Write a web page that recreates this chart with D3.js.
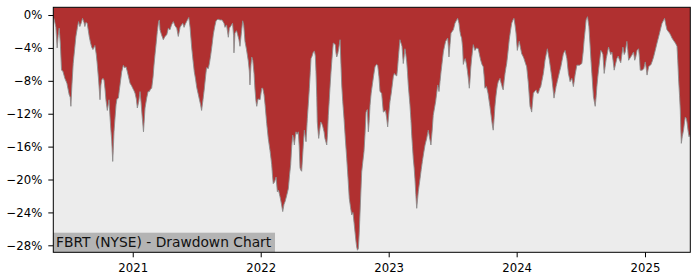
<!DOCTYPE html>
<html>
<head>
<meta charset="utf-8">
<script src="https://cdn.jsdelivr.net/npm/d3@7"></script>
<style>
  body { margin: 0; background: #fff; }
  svg { display: block; font-family: "DejaVu Sans", sans-serif; }
</style>
</head>
<body>
<svg id="chart"></svg>
<script>
// drawdown readings, time as decimal years, value in percent
const dates = [
  2020.381, 2020.389, 2020.401, 2020.411, 2020.419, 2020.427, 2020.436, 2020.445, 2020.455, 2020.471,
  2020.487, 2020.505, 2020.513, 2020.518, 2020.526, 2020.536, 2020.545, 2020.557, 2020.569, 2020.578,
  2020.588, 2020.600, 2020.609, 2020.620, 2020.627, 2020.635, 2020.645, 2020.653, 2020.661, 2020.670,
  2020.680, 2020.690, 2020.705, 2020.716, 2020.723, 2020.734, 2020.745, 2020.752, 2020.758, 2020.768,
  2020.776, 2020.784, 2020.791, 2020.802, 2020.815, 2020.823, 2020.830, 2020.836, 2020.844, 2020.848,
  2020.854, 2020.862, 2020.870, 2020.877, 2020.888, 2020.895, 2020.901, 2020.914, 2020.927, 2020.936,
  2020.948, 2020.958, 2020.967, 2020.979, 2020.991, 2021.000, 2021.010, 2021.018, 2021.028, 2021.036,
  2021.047, 2021.057, 2021.065, 2021.073, 2021.084, 2021.096, 2021.109, 2021.120, 2021.130, 2021.139,
  2021.148, 2021.159, 2021.166, 2021.174, 2021.182, 2021.192, 2021.202, 2021.208, 2021.213, 2021.225,
  2021.239, 2021.252, 2021.266, 2021.278, 2021.291, 2021.303, 2021.317, 2021.330, 2021.344, 2021.356,
  2021.370, 2021.381, 2021.391, 2021.401, 2021.411, 2021.424, 2021.438, 2021.448, 2021.461, 2021.471,
  2021.481, 2021.491, 2021.500, 2021.510, 2021.520, 2021.530, 2021.538, 2021.549, 2021.559, 2021.569,
  2021.577, 2021.591, 2021.600, 2021.609, 2021.620, 2021.630, 2021.641, 2021.651, 2021.666, 2021.682,
  2021.698, 2021.713, 2021.721, 2021.733, 2021.747, 2021.755, 2021.768, 2021.780, 2021.788, 2021.791,
  2021.799, 2021.811, 2021.820, 2021.830, 2021.838, 2021.850, 2021.859, 2021.867, 2021.877, 2021.889,
  2021.903, 2021.911, 2021.916, 2021.924, 2021.930, 2021.938, 2021.948, 2021.955, 2021.963, 2021.969,
  2021.979, 2021.995, 2022.008, 2022.016, 2022.026, 2022.034, 2022.047, 2022.059, 2022.073, 2022.086,
  2022.092, 2022.098, 2022.108, 2022.120, 2022.130, 2022.139, 2022.151, 2022.161, 2022.172, 2022.182,
  2022.190, 2022.202, 2022.216, 2022.225, 2022.234, 2022.242, 2022.250, 2022.256, 2022.263, 2022.270,
  2022.276, 2022.284, 2022.294, 2022.301, 2022.307, 2022.315, 2022.320, 2022.328, 2022.334, 2022.341,
  2022.348, 2022.354, 2022.364, 2022.372, 2022.380, 2022.387, 2022.393, 2022.401, 2022.411, 2022.420,
  2022.427, 2022.432, 2022.438, 2022.442, 2022.453, 2022.461, 2022.469, 2022.477, 2022.484, 2022.495,
  2022.502, 2022.516, 2022.522, 2022.528, 2022.535, 2022.541, 2022.549, 2022.555, 2022.561, 2022.567,
  2022.575, 2022.583, 2022.588, 2022.594, 2022.602, 2022.609, 2022.620, 2022.627, 2022.633, 2022.641,
  2022.651, 2022.661, 2022.672, 2022.682, 2022.692, 2022.702, 2022.711, 2022.721, 2022.729, 2022.737,
  2022.745, 2022.750, 2022.756, 2022.763, 2022.770, 2022.780, 2022.789, 2022.798, 2022.807, 2022.815,
  2022.823, 2022.833, 2022.841, 2022.848, 2022.854, 2022.863, 2022.872, 2022.883, 2022.893, 2022.905,
  2022.914, 2022.924, 2022.932, 2022.945, 2022.958, 2022.975, 2022.984, 2022.992, 2023.002, 2023.010,
  2023.020, 2023.028, 2023.036, 2023.044, 2023.053, 2023.063, 2023.069, 2023.075, 2023.082, 2023.088,
  2023.096, 2023.104, 2023.114, 2023.121, 2023.127, 2023.134, 2023.141, 2023.147, 2023.153, 2023.160,
  2023.166, 2023.174, 2023.180, 2023.186, 2023.192, 2023.199, 2023.205, 2023.212, 2023.219, 2023.225,
  2023.231, 2023.238, 2023.245, 2023.254, 2023.263, 2023.273, 2023.284, 2023.297, 2023.309, 2023.316,
  2023.323, 2023.330, 2023.340, 2023.348, 2023.358, 2023.367, 2023.375, 2023.383, 2023.393, 2023.401,
  2023.409, 2023.418, 2023.427, 2023.436, 2023.445, 2023.453, 2023.461, 2023.466, 2023.471, 2023.479,
  2023.487, 2023.496, 2023.505, 2023.512, 2023.518, 2023.528, 2023.539, 2023.549, 2023.557, 2023.563,
  2023.570, 2023.578, 2023.583, 2023.590, 2023.598, 2023.608, 2023.616, 2023.623, 2023.630, 2023.635,
  2023.641, 2023.648, 2023.661, 2023.674, 2023.686, 2023.700, 2023.709, 2023.719, 2023.729, 2023.739,
  2023.746, 2023.752, 2023.764, 2023.776, 2023.791, 2023.805, 2023.811, 2023.817, 2023.824, 2023.830,
  2023.837, 2023.844, 2023.850, 2023.856, 2023.863, 2023.870, 2023.877, 2023.883, 2023.889, 2023.895,
  2023.902, 2023.909, 2023.916, 2023.922, 2023.932, 2023.942, 2023.952, 2023.961, 2023.971, 2023.979,
  2023.987, 2023.995, 2024.005, 2024.013, 2024.020, 2024.030, 2024.039, 2024.049, 2024.057, 2024.067,
  2024.078, 2024.084, 2024.091, 2024.098, 2024.104, 2024.112, 2024.117, 2024.123, 2024.130, 2024.140,
  2024.151, 2024.160, 2024.169, 2024.178, 2024.188, 2024.198, 2024.208, 2024.215, 2024.221, 2024.230,
  2024.239, 2024.247, 2024.255, 2024.264, 2024.273, 2024.282, 2024.291, 2024.299, 2024.307, 2024.316,
  2024.325, 2024.334, 2024.344, 2024.354, 2024.364, 2024.377, 2024.391, 2024.397, 2024.403, 2024.410,
  2024.416, 2024.430, 2024.442, 2024.449, 2024.455, 2024.469, 2024.479, 2024.489, 2024.498, 2024.508,
  2024.518, 2024.526, 2024.534, 2024.541, 2024.552, 2024.563, 2024.573, 2024.579, 2024.586, 2024.592,
  2024.598, 2024.605, 2024.612, 2024.620, 2024.625, 2024.631, 2024.638, 2024.647, 2024.656, 2024.664,
  2024.672, 2024.682, 2024.690, 2024.698, 2024.707, 2024.716, 2024.725, 2024.733, 2024.742, 2024.751,
  2024.760, 2024.770, 2024.781, 2024.791, 2024.802, 2024.811, 2024.819, 2024.828, 2024.838, 2024.846,
  2024.859, 2024.866, 2024.872, 2024.885, 2024.897, 2024.911, 2024.920, 2024.928, 2024.938, 2024.950,
  2024.957, 2024.963, 2024.979, 2024.991, 2025.002, 2025.010, 2025.016, 2025.028, 2025.047, 2025.057,
  2025.067, 2025.080, 2025.094, 2025.104, 2025.114, 2025.123, 2025.133, 2025.143, 2025.153, 2025.163,
  2025.172, 2025.182, 2025.192, 2025.202, 2025.211, 2025.223, 2025.237, 2025.250, 2025.256, 2025.263,
  2025.270, 2025.276, 2025.280, 2025.284, 2025.291, 2025.301, 2025.309, 2025.315, 2025.323, 2025.328,
  2025.336, 2025.344, 2025.354
];

const drawdown = [
  -0.2, -0.6, -1.5, -4.0, -2.5, -1.6, -3.5, -6.7, -6.8, -7.7,
  -8.3, -9.7, -10.0, -11.1, -8.5, -5.9, -4.5, -2.6, -1.5, -0.8,
  -1.4, -0.9, -0.4, -0.9, -1.4, -0.9, -1.0, -1.8, -2.6, -3.3,
  -3.9, -4.2, -3.7, -4.8, -5.9, -7.9, -10.3, -8.5, -7.9, -7.7,
  -7.9, -9.0, -10.3, -11.6, -10.3, -12.4, -14.0, -15.2, -17.8, -16.5,
  -14.2, -12.5, -10.9, -10.2, -10.1, -9.2, -8.5, -6.9, -6.1, -6.4,
  -6.3, -6.9, -7.5, -8.3, -8.6, -8.9, -9.2, -9.5, -10.2, -11.3,
  -10.5, -9.3, -10.6, -12.2, -14.2, -11.3, -10.1, -9.3, -9.3, -9.0,
  -8.9, -7.5, -6.1, -4.8, -3.6, -2.0, -0.8, -0.6, -1.8, -2.4,
  -3.0, -2.6, -2.4, -1.6, -1.8, -1.2, -0.8, -1.3, -1.6, -2.6,
  -1.5, -1.2, -1.0, -1.5, -1.1, -0.7, -0.3, -1.5, -4.0, -5.5,
  -6.9, -7.8, -8.8, -9.5, -10.2, -10.9, -11.6, -10.3, -9.0, -7.5,
  -6.4, -6.5, -5.8, -4.9, -3.6, -2.3, -1.4, -0.7, -0.5, -0.6,
  -0.6, -1.0, -1.5, -1.2, -2.7, -1.6, -1.3, -1.0, -2.5, -4.6,
  -2.2, -1.9, -2.4, -3.0, -3.8, -2.0, -0.7, -1.2, -3.2, -4.2,
  -5.6, -6.8, -8.5, -6.0, -5.1, -5.5, -7.1, -9.0, -10.5, -11.1,
  -10.2, -10.3, -8.9, -8.9, -9.7, -10.9, -13.2, -15.0, -16.5, -18.2,
  -19.5, -20.5, -20.3, -19.7, -21.5, -21.3, -22.1, -22.9, -23.9, -23.0,
  -22.7, -22.0, -21.1, -19.5, -18.2, -16.0, -14.6, -15.0, -15.8, -14.8,
  -14.2, -14.5, -14.2, -16.0, -18.6, -18.9, -19.0, -17.0, -15.5, -14.0,
  -14.8, -15.4, -12.6, -10.8, -8.9, -7.0, -5.3, -5.0, -4.5, -4.4,
  -5.0, -6.9, -10.0, -13.0, -15.0, -14.0, -13.0, -13.2, -13.5, -14.2,
  -15.0, -15.8, -14.5, -12.2, -10.5, -8.9, -7.0, -5.7, -4.5, -3.4,
  -3.5, -3.6, -4.6, -5.1, -4.7, -4.1, -3.0, -6.0, -8.5, -10.5,
  -12.6, -15.0, -17.4, -19.8, -22.3, -23.4, -24.3, -24.0, -25.2, -26.4,
  -27.6, -28.2, -28.6, -28.4, -26.4, -22.5, -19.1, -17.8, -16.6, -14.5,
  -11.8, -11.5, -14.2, -12.8, -11.0, -9.5, -8.5, -7.3, -6.3, -6.0,
  -6.1, -7.5, -9.3, -9.5, -11.8, -11.6, -12.5, -13.6, -11.8, -10.5,
  -9.5, -8.5, -7.5, -7.1, -7.3, -7.4, -6.5, -5.3, -4.0, -3.0,
  -3.4, -3.8, -5.9, -5.0, -4.1, -4.8, -5.7, -7.0, -8.5, -9.8,
  -10.9, -12.8, -14.6, -16.0, -17.4, -18.6, -19.9, -21.8, -23.5, -22.5,
  -21.5, -20.7, -19.9, -18.8, -17.8, -16.8, -15.8, -15.0, -14.0, -14.6,
  -15.2, -15.8, -14.0, -12.2, -11.3, -10.5, -9.5, -8.5, -9.3, -8.1,
  -6.9, -5.7, -4.5, -3.8, -3.2, -3.0, -2.8, -3.8, -5.1, -3.6,
  -2.2, -2.0, -1.8, -1.4, -1.0, -0.7, -0.4, -1.0, -2.0, -2.5,
  -2.8, -4.0, -6.0, -5.6, -5.3, -6.0, -6.9, -7.8, -8.9, -8.0,
  -6.5, -5.3, -3.6, -4.3, -4.0, -4.1, -4.8, -5.5, -6.0, -6.3,
  -7.5, -8.9, -8.7, -9.5, -11.1, -12.8, -13.5, -14.0, -12.5, -11.1,
  -10.0, -9.1, -8.5, -8.1, -7.9, -7.7, -8.2, -8.5, -8.9, -9.1,
  -8.0, -7.1, -6.4, -5.9, -4.5, -3.0, -1.9, -1.0, -0.6, -0.4,
  -1.2, -2.2, -4.3, -3.7, -3.2, -4.0, -4.7, -5.0, -5.3, -5.8,
  -6.3, -7.2, -8.3, -9.8, -11.1, -11.5, -11.8, -10.7, -9.5, -9.3,
  -9.1, -9.5, -9.5, -9.0, -8.7, -7.9, -7.1, -6.3, -5.5, -4.8,
  -4.1, -4.8, -5.5, -6.5, -7.5, -8.8, -10.1, -9.4, -8.7, -8.1,
  -7.5, -6.9, -6.3, -5.5, -4.7, -4.3, -5.3, -6.2, -7.1, -7.6,
  -8.1, -7.7, -8.7, -8.0, -7.3, -6.1, -6.1, -6.1, -6.0, -5.9,
  -4.5, -3.0, -1.8, -0.6, -0.2, -1.4, -3.9, -5.5, -7.1, -8.5,
  -9.9, -10.5, -11.1, -9.8, -8.7, -7.7, -6.7, -5.5, -4.3, -4.5,
  -4.8, -7.1, -6.2, -5.3, -4.6, -3.9, -4.4, -4.8, -4.5, -5.5,
  -6.7, -6.0, -5.3, -5.0, -5.5, -5.8, -4.9, -3.9, -4.8, -4.5,
  -3.2, -4.3, -5.5, -5.2, -4.9, -4.5, -5.5, -5.1, -4.3, -4.1,
  -5.2, -6.7, -6.7, -6.5, -5.7, -6.5, -7.3, -6.3, -6.0, -5.6,
  -5.1, -4.3, -3.4, -2.8, -2.2, -1.6, -1.0, -0.7, -0.4, -1.2,
  -1.8, -2.0, -2.2, -2.5, -2.8, -3.1, -3.4, -3.8, -5.5, -7.9,
  -9.8, -11.6, -14.0, -15.6, -14.8, -14.0, -13.0, -12.4, -12.6, -13.0,
  -14.0, -14.8, -14.5
];

const yTicks = [0, -4, -8, -12, -16, -20, -24, -28];
const xTicks = [2021, 2022, 2023, 2024, 2025];
const yLimits = [-28.85, 0.94];
const chartLabel = "FBRT (NYSE) - Drawdown Chart";

// decimal year -> UTC date
function yearToDate(t) {
    const y = Math.floor(t);
    const start = Date.UTC(y, 0, 1);
    const end = Date.UTC(y + 1, 0, 1);
    return new Date(start + (t - y) * (end - start));
}

class DrawdownChart {
    constructor(_config) {
        this.config = {
            parentElement: _config.parentElement,
            containerWidth: _config.containerWidth || 700,
            containerHeight: _config.containerHeight || 280,
            margin: _config.margin || { top: 7.3, right: 9.7, bottom: 27.7, left: 53.3 },
        };
        this.data = dates.map((d, i) => ({ date: yearToDate(d), value: drawdown[i] }));
        this.initVis();
    }

    initVis() {
        let vis = this;

        vis.width = vis.config.containerWidth - vis.config.margin.left - vis.config.margin.right;
        vis.height = vis.config.containerHeight - vis.config.margin.top - vis.config.margin.bottom;

        vis.svg = d3
            .select(vis.config.parentElement)
            .attr("width", vis.config.containerWidth)
            .attr("height", vis.config.containerHeight);

        vis.chart = vis.svg
            .append("g")
            .attr("transform", `translate(${vis.config.margin.left},${vis.config.margin.top})`);

        vis.xScale = d3
            .scaleUtc()
            .domain(d3.extent(vis.data, (d) => d.date))
            .range([0, vis.width]);

        vis.yScale = d3.scaleLinear().domain(yLimits).range([vis.height, 0]);

        vis.renderVis();
    }

    renderVis() {
        let vis = this;

        vis.chart
            .append("rect")
            .attr("width", vis.width)
            .attr("height", vis.height)
            .attr("fill", "#ececec");

        vis.svg
            .append("clipPath")
            .attr("id", "plot-clip")
            .append("rect")
            .attr("width", vis.width)
            .attr("height", vis.height);

        const plot = vis.chart.append("g").attr("clip-path", "url(#plot-clip)");

        // the fill runs from the curve up to the top of the axes
        const area = d3
            .area()
            .x((d) => vis.xScale(d.date))
            .y0(vis.yScale(yLimits[1]))
            .y1((d) => vis.yScale(d.value));

        plot.append("path")
            .datum(vis.data)
            .attr("d", area)
            .attr("fill", "#b03030");

        const line = d3
            .line()
            .x((d) => vis.xScale(d.date))
            .y((d) => vis.yScale(d.value));

        plot.append("path")
            .datum(vis.data)
            .attr("d", line)
            .attr("fill", "none")
            .attr("stroke", "#8c8c8c")
            .attr("stroke-width", 0.9);

        // axes
        const yAxis = d3
            .axisLeft(vis.yScale)
            .tickValues(yTicks)
            .tickFormat((d) => d3.format("d")(d) + "%")
            .tickSize(5)
            .tickPadding(6);

        const xAxis = d3
            .axisBottom(vis.xScale)
            .tickValues(xTicks.map((y) => yearToDate(y)))
            .tickFormat(d3.utcFormat("%Y"))
            .tickSize(5)
            .tickPadding(6);

        const yAxisG = vis.chart.append("g").call(yAxis);
        const xAxisG = vis.chart
            .append("g")
            .attr("transform", `translate(0,${vis.height})`)
            .call(xAxis);

        [yAxisG, xAxisG].forEach((g) => {
            g.select(".domain").remove();
            g.selectAll("line").attr("stroke", "#000").attr("stroke-width", 1);
            g.selectAll("text")
                .attr("fill", "#000")
                .style("font-size", "11.7px")
                .style("font-family", "'DejaVu Sans', sans-serif");
        });

        // label box at lower-left
        const label = vis.chart.append("g").attr("transform", `translate(0,${vis.height})`);
        label.append("rect")
            .attr("x", 0)
            .attr("y", -19.6)
            .attr("width", 221.7)
            .attr("height", 19.6)
            .attr("fill", "#b4b4b4");
        label.append("text")
            .attr("x", 2.8)
            .attr("y", -5)
            .attr("fill", "#111")
            .style("font-size", "13.8px")
            .text(chartLabel);

        // frame
        vis.chart
            .append("rect")
            .attr("width", vis.width)
            .attr("height", vis.height)
            .attr("fill", "none")
            .attr("stroke", "#000")
            .attr("stroke-width", 1);
    }
}

new DrawdownChart({ parentElement: "#chart" });
</script>
</body>
</html>
